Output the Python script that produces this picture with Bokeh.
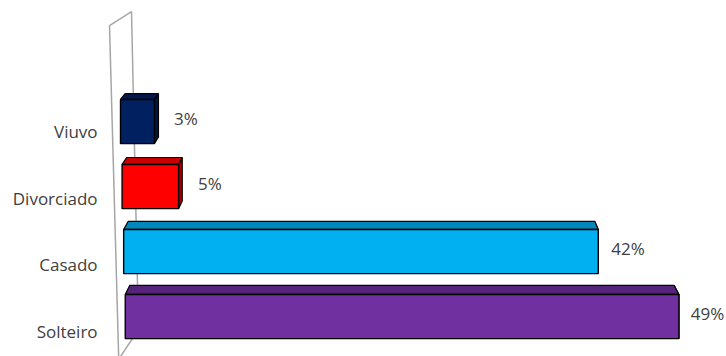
from bokeh.plotting import figure
from bokeh.models import Range1d, ColumnDataSource
from bokeh.core.properties import value
from bokeh.embed import file_html
from bokeh.resources import INLINE

# ---- data (top to bottom) ----
categories = ["Viuvo", "Divorciado", "Casado", "Solteiro"]
percent = [3, 5, 42, 49]
value_labels = ["3%", "5%", "42%", "49%"]
front_colors = ["#002060", "#FF0000", "#00B0F0", "#7030A0"]
top_colors = ["#001A50", "#C80000", "#0088BC", "#55237C"]
side_colors = ["#00143C", "#A80000", "#007AA8", "#4A1E6C"]

FONT = "Open Sans"
TEXT_COLOR = "#404040"

# ---- style geometry (data units) ----
HALF = 0.34          # half bar thickness
SHEAR = 0.14         # perspective shift of bar origin per row
VPX, VPY = 24.16, 8.62  # vanishing point for depth faces
K = 0.017            # depth ratio

p = figure(width=726, height=356, output_backend="svg", toolbar_location=None,
           x_range=Range1d(-10.62, 53.63), y_range=Range1d(-0.615, 4.862),
           min_border=0, outline_line_color=None, background_fill_color="white",
           border_fill_color="white")
p.axis.visible = False
p.grid.visible = False

# wall (decor)
p.line([-0.973, -0.142], [4.477, -0.754], line_color="#A6A6A6", line_width=1.5)
p.line([-0.973, 0.973], [4.477, 4.692], line_color="#A6A6A6", line_width=1.5)
p.line([0.973, 1.593, -0.531], [4.692, -0.2, -0.754], line_color="#A6A6A6", line_width=1.5)

n = len(categories)
yc = [n - 1 - r for r in range(n)]
left = [SHEAR * r for r in range(n)]
right = [left[r] + percent[r] for r in range(n)]
top = [y + HALF for y in yc]
bottom = [y - HALF for y in yc]


def back(x, y):
    return x + K * (VPX - x), y + K * (VPY - y)


top_xs, top_ys, side_xs, side_ys = [], [], [], []
for r in range(n):
    bl = back(left[r], top[r])
    br = back(right[r], top[r])
    bb = back(right[r], bottom[r])
    top_xs.append([left[r], right[r], br[0], bl[0]])
    top_ys.append([top[r], top[r], br[1], bl[1]])
    side_xs.append([right[r], right[r], bb[0], br[0]])
    side_ys.append([top[r], bottom[r], bb[1], br[1]])

p.patches(side_xs, side_ys, fill_color=side_colors, line_color="black", line_width=1.2)
p.patches(top_xs, top_ys, fill_color=top_colors, line_color="black", line_width=1.2)
src = ColumnDataSource(dict(left=left, right=right, top=top, bottom=bottom, c=front_colors))
p.quad(left="left", right="right", top="top", bottom="bottom", fill_color="c",
       line_color="black", line_width=1.4, source=src)

# category labels
cat_y = [yc[r] - (0.158 + 0.023 * r) for r in range(n)]
p.text(x=[-2.03] * n, y=cat_y, text=categories, text_align="right",
       text_baseline="alphabetic", text_font=value(FONT), text_font_size="17px",
       text_color=TEXT_COLOR)

# value labels
lab_x = [right[r] + 1.788 - 0.015 * right[r] for r in range(n)]
lab_y = [yc[r] + 0.046 for r in range(n)]
p.text(x=lab_x, y=lab_y, text=value_labels, text_align="left",
       text_baseline="alphabetic", text_font=value(FONT), text_font_size="17px",
       text_color=TEXT_COLOR)

open("out.html", "w").write(file_html(p, INLINE))
